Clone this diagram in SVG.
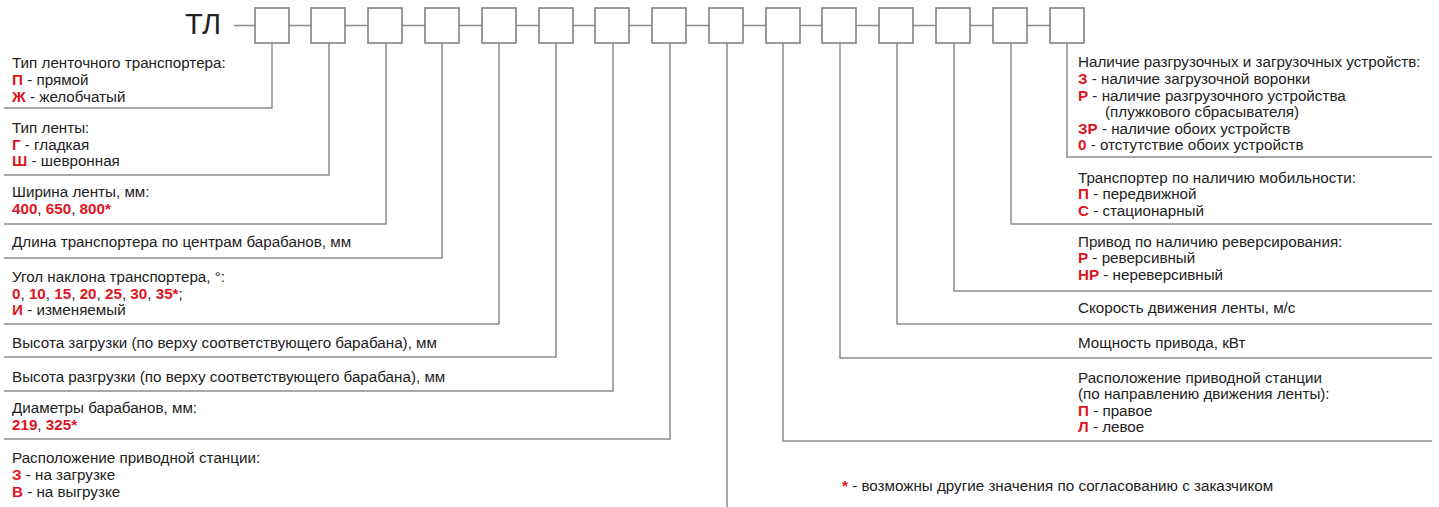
<svg xmlns="http://www.w3.org/2000/svg" width="1439" height="507" viewBox="0 0 1439 507">
<style>
text{font-family:"Liberation Sans",Arial,sans-serif;font-size:15.2px;fill:#222}
.r{fill:#e0141e;font-weight:bold}
.t{font-size:29px;fill:#222}
.box{fill:#fff;stroke:#7a7a7a;stroke-width:1.5}
.ln{fill:none;stroke:#8c8c8c;stroke-width:1.5}
</style>
<rect width="1439" height="507" fill="#fff"/>
<g id="title"><text class="t" x="185" y="34">ТЛ</text></g>
<g id="connectors">
<path class="ln" d="M234 25.5H255 M289 25.5H311 M345 25.5H368 M402 25.5H425 M459 25.5H482 M516 25.5H539 M573 25.5H595 M629 25.5H652 M686 25.5H709 M743 25.5H766 M800 25.5H822 M856 25.5H879 M913 25.5H936 M970 25.5H993 M1027 25.5H1050"/>
<path class="ln" d="M272 43V108H4 M329 43V175H4 M386 43V224H4 M442 43V258H4 M499 43V324H4 M556 43V357H4 M613 43V391H4 M670 43V439H4 M727 43V507"/>
<path class="ln" d="M1067 43V157H1432 M1011 43V224H1432 M954 43V291H1432 M897 43V324H1432 M840 43V358H1432 M783 43V441H1432"/>
</g>
<g id="boxes">
<rect class="box" x="255" y="8" width="34" height="35"/>
<rect class="box" x="311" y="8" width="34" height="35"/>
<rect class="box" x="368" y="8" width="34" height="35"/>
<rect class="box" x="425" y="8" width="34" height="35"/>
<rect class="box" x="482" y="8" width="34" height="35"/>
<rect class="box" x="539" y="8" width="34" height="35"/>
<rect class="box" x="595" y="8" width="34" height="35"/>
<rect class="box" x="652" y="8" width="34" height="35"/>
<rect class="box" x="709" y="8" width="34" height="35"/>
<rect class="box" x="766" y="8" width="34" height="35"/>
<rect class="box" x="822" y="8" width="34" height="35"/>
<rect class="box" x="879" y="8" width="34" height="35"/>
<rect class="box" x="936" y="8" width="34" height="35"/>
<rect class="box" x="993" y="8" width="34" height="35"/>
<rect class="box" x="1050" y="8" width="34" height="35"/>
</g>
<g id="n1"><text x="12" y="68">Тип ленточного транспортера:</text><text x="12" y="85"><tspan class="r">П</tspan> - прямой</text><text x="12" y="102"><tspan class="r">Ж</tspan> - желобчатый</text></g>
<g id="n2"><text x="12" y="133">Тип ленты:</text><text x="12" y="150"><tspan class="r">Г</tspan> - гладкая</text><text x="12" y="166"><tspan class="r">Ш</tspan> - шевронная</text></g>
<g id="n3"><text x="12" y="197">Ширина ленты, мм:</text><text x="12" y="214"><tspan class="r">400</tspan>, <tspan class="r">650</tspan>, <tspan class="r">800*</tspan></text></g>
<g id="n4"><text x="12" y="247">Длина транспортера по центрам барабанов, мм</text></g>
<g id="n5"><text x="12" y="282">Угол наклона транспортера, °:</text><text x="12" y="299"><tspan class="r">0</tspan>, <tspan class="r">10</tspan>, <tspan class="r">15</tspan>, <tspan class="r">20</tspan>, <tspan class="r">25</tspan>, <tspan class="r">30</tspan>, <tspan class="r">35*</tspan>;</text><text x="12" y="315"><tspan class="r">И</tspan> - изменяемый</text></g>
<g id="n6"><text x="12" y="348">Высота загрузки (по верху соответствующего барабана), мм</text></g>
<g id="n7"><text x="12" y="382">Высота разгрузки (по верху соответствующего барабана), мм</text></g>
<g id="n8"><text x="12" y="413">Диаметры барабанов, мм:</text><text x="12" y="430"><tspan class="r">219</tspan>, <tspan class="r">325*</tspan></text></g>
<g id="n9"><text x="12" y="463">Расположение приводной станции:</text><text x="12" y="480"><tspan class="r">З</tspan> - на загрузке</text><text x="12" y="497"><tspan class="r">В</tspan> - на выгрузке</text></g>
<g id="n15"><text x="1078" y="67">Наличие разгрузочных и загрузочных устройств:</text><text x="1078" y="84"><tspan class="r">З</tspan> - наличие загрузочной воронки</text><text x="1078" y="101"><tspan class="r">Р</tspan> - наличие разгрузочного устройства</text><text x="1105" y="117">(плужкового сбрасывателя)</text><text x="1078" y="134"><tspan class="r">ЗР</tspan> - наличие обоих устройств</text><text x="1078" y="150"><tspan class="r">0</tspan> - отстутствие обоих устройств</text></g>
<g id="n14"><text x="1078" y="183">Транспортер по наличию мобильности:</text><text x="1078" y="199"><tspan class="r">П</tspan> - передвижной</text><text x="1078" y="216"><tspan class="r">С</tspan> - стационарный</text></g>
<g id="n13"><text x="1078" y="247">Привод по наличию реверсирования:</text><text x="1078" y="263"><tspan class="r">Р</tspan> - реверсивный</text><text x="1078" y="280"><tspan class="r">НР</tspan> - нереверсивный</text></g>
<g id="n12"><text x="1078" y="313">Скорость движения ленты, м/с</text></g>
<g id="n11"><text x="1078" y="348">Мощность привода, кВт</text></g>
<g id="n10"><text x="1078" y="383">Расположение приводной станции</text><text x="1078" y="399">(по направлению движения ленты):</text><text x="1078" y="416"><tspan class="r">П</tspan> - правое</text><text x="1078" y="432"><tspan class="r">Л</tspan> - левое</text></g>
<g id="note"><text x="842" y="491"><tspan class="r">*</tspan> - возможны другие значения по согласованию с заказчиком</text></g>
</svg>
